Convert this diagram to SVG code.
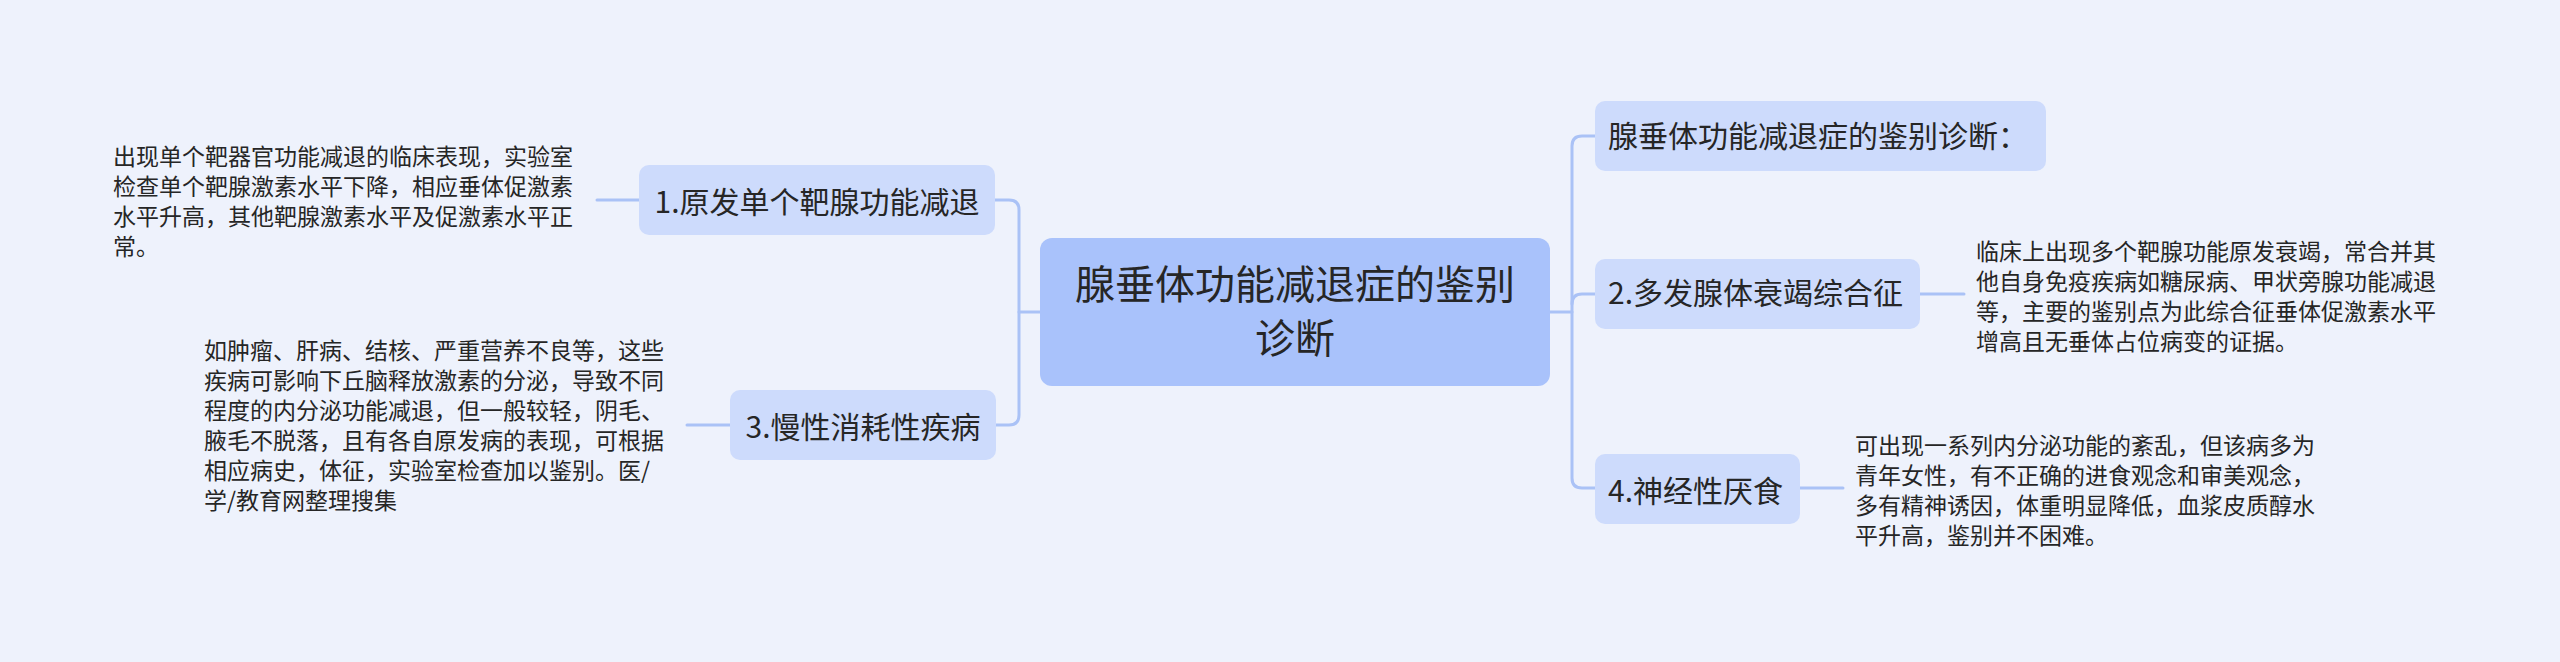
<svg xmlns="http://www.w3.org/2000/svg" width="2560" height="662" viewBox="0 0 2560 662">
<style>
.bg{fill:#eef2fc}
.root{fill:#a9c2fb}
.n1{fill:#cddbfc}
.line{fill:none;stroke:#aac2f6;stroke-width:3;stroke-linecap:round}
text{font-family:"Noto Sans CJK SC","Noto Sans",sans-serif;fill:#262626}
.rt{font-size:40px;text-anchor:middle}
.t1{font-size:30px}
.mid{text-anchor:middle}
.d{font-size:23px}
</style>
<rect class="bg" x="0" y="0" width="2560" height="662"/>
<g id="connectors">
<path class="line" d="M1040 312 H1019"/>
<path class="line" d="M995 200 H1009 Q1019 200 1019 210 V415 Q1019 425 1009 425 H996"/>
<path class="line" d="M597 200 H639"/>
<path class="line" d="M687 425 H730"/>
<path class="line" d="M1550 312 H1572"/>
<path class="line" d="M1595 136 H1582 Q1572 136 1572 146 V478 Q1572 488 1582 488 H1595"/>
<path class="line" d="M1572 304 Q1572 294 1582 294 H1595"/>
<path class="line" d="M1920 294 H1964"/>
<path class="line" d="M1800 488 H1843"/>
</g>
<g id="root">
<rect class="root" x="1040" y="238" width="510" height="148" rx="12"/>
<text class="rt" x="1295" y="299">腺垂体功能减退症的鉴别</text>
<text class="rt" x="1295" y="353">诊断</text>
</g>
<g id="node1">
<rect class="n1" x="639" y="165" width="356" height="70" rx="10"/>
<text class="t1 mid" x="817" y="213">1.原发单个靶腺功能减退</text>
</g>
<g id="node1-desc">
<text class="d" x="113" y="165">出现单个靶器官功能减退的临床表现，实验室</text>
<text class="d" x="113" y="195">检查单个靶腺激素水平下降，相应垂体促激素</text>
<text class="d" x="113" y="225">水平升高，其他靶腺激素水平及促激素水平正</text>
<text class="d" x="113" y="255">常。</text>
</g>
<g id="node3">
<rect class="n1" x="730" y="390" width="266" height="70" rx="10"/>
<text class="t1 mid" x="863" y="438">3.慢性消耗性疾病</text>
</g>
<g id="node3-desc">
<text class="d" x="204" y="358.5">如肿瘤、肝病、结核、严重营养不良等，这些</text>
<text class="d" x="204" y="388.5">疾病可影响下丘脑释放激素的分泌，导致不同</text>
<text class="d" x="204" y="418.5">程度的内分泌功能减退，但一般较轻，阴毛、</text>
<text class="d" x="204" y="448.5">腋毛不脱落，且有各自原发病的表现，可根据</text>
<text class="d" x="204" y="478.5">相应病史，体征，实验室检查加以鉴别。医/</text>
<text class="d" x="204" y="508.5">学/教育网整理搜集</text>
</g>
<g id="node-top">
<rect class="n1" x="1595" y="101" width="451" height="70" rx="10"/>
<text class="t1" x="1608" y="147">腺垂体功能减退症的鉴别诊断：</text>
</g>
<g id="node2">
<rect class="n1" x="1595" y="259" width="325" height="70" rx="10"/>
<text class="t1" x="1608" y="303.5">2.多发腺体衰竭综合征</text>
</g>
<g id="node2-desc">
<text class="d" x="1976" y="259.5">临床上出现多个靶腺功能原发衰竭，常合并其</text>
<text class="d" x="1976" y="289.5">他自身免疫疾病如糖尿病、甲状旁腺功能减退</text>
<text class="d" x="1976" y="319.5">等，主要的鉴别点为此综合征垂体促激素水平</text>
<text class="d" x="1976" y="349.5">增高且无垂体占位病变的证据。</text>
</g>
<g id="node4">
<rect class="n1" x="1595" y="454" width="205" height="70" rx="10"/>
<text class="t1" x="1608" y="502">4.神经性厌食</text>
</g>
<g id="node4-desc">
<text class="d" x="1855" y="453.5">可出现一系列内分泌功能的紊乱，但该病多为</text>
<text class="d" x="1855" y="483.5">青年女性，有不正确的进食观念和审美观念，</text>
<text class="d" x="1855" y="513.5">多有精神诱因，体重明显降低，血浆皮质醇水</text>
<text class="d" x="1855" y="543.5">平升高，鉴别并不困难。</text>
</g>
</svg>
